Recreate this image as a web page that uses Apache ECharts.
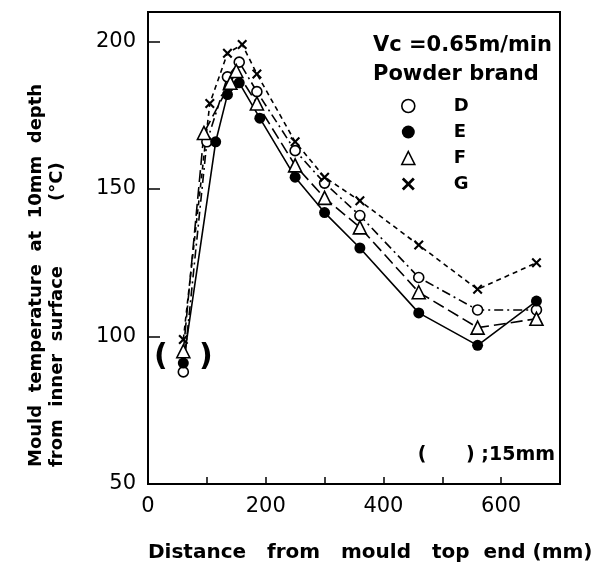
<!DOCTYPE html>
<html>
<head>
<meta charset="utf-8">
<script src="https://cdn.jsdelivr.net/npm/echarts@6/dist/echarts.min.js"></script>
<style>
  html, body { margin: 0; padding: 0; background: #fff; }
  #chart { width: 601px; height: 574px; }
</style>
</head>
<body>
<div id="chart"></div>
<script>
// distance from mould top end (mm) and temperature (°C) per powder brand
const distD = [60, 100, 135, 155, 185, 250, 300, 360, 460, 560, 660];
const tempD = [88, 166, 188, 193, 183, 163, 152, 141, 120, 109, 109];
const distE = [60, 115, 135, 155, 190, 250, 300, 360, 460, 560, 660];
const tempE = [91, 166, 182, 186, 174, 154, 142, 130, 108, 97, 112];
const distF = [60, 95, 140, 150, 185, 250, 300, 360, 460, 560, 660];
const tempF = [95, 169, 186, 190, 179, 158, 147, 137, 115, 103, 106];
const distG = [60, 105, 135, 160, 185, 250, 300, 360, 460, 560, 660];
const tempG = [99, 179, 196, 199, 189, 166, 154, 146, 131, 116, 125];
// the bracketed points (15mm depth)
const bracketPoint = [60, 93];

const FONT = '"DejaVu Sans", sans-serif';
const crossPath = 'path://M0,1.5L1.5,0L5,3.5L8.5,0L10,1.5L6.5,5L10,8.5L8.5,10L5,6.5L1.5,10L0,8.5L3.5,5Z';

const zip = (xs, ys) => xs.map((x, i) => [x, ys[i]]);

const hollow = { color: '#fff', borderColor: '#000', borderWidth: 1.6 };

const chart = echarts.init(document.getElementById('chart'));

chart.setOption({
  animation: false,
  grid: {
    left: 148, right: 41, top: 12, bottom: 90,
    show: true, borderColor: '#000', borderWidth: 2
  },
  title: {
    text: 'Vc =0.65m/min\nPowder brand',
    left: 368, top: 26,
    textStyle: { fontFamily: FONT, fontSize: 21, fontWeight: 'bold', color: '#000', lineHeight: 29 }
  },
  legend: {
    orient: 'vertical',
    left: 396, top: 92,
    itemWidth: 13, itemHeight: 13, itemGap: 8,
    textStyle: { fontFamily: FONT, fontSize: 18, fontWeight: 'bold', color: '#000', padding: [0, 0, 0, 34] },
    data: [
      { name: 'D', icon: 'circle', itemStyle: { color: '#fff', borderColor: '#000', borderWidth: 1.6 } },
      { name: 'E', icon: 'circle', itemStyle: { color: '#000', borderWidth: 0 } },
      { name: 'F', icon: 'triangle', itemStyle: { color: '#fff', borderColor: '#000', borderWidth: 1.6 } },
      { name: 'G', icon: crossPath, itemStyle: { color: '#000', borderWidth: 0 } }
    ]
  },
  xAxis: {
    type: 'value', min: 0, max: 700, interval: 100,
    axisLine: { show: false },
    splitLine: { show: false },
    axisTick: { inside: true, length: 7, lineStyle: { color: '#000', width: 1.5 } },
    axisLabel: {
      margin: 12, color: '#000', fontFamily: FONT, fontSize: 21,
      formatter: v => (v % 200 === 0 && v < 700 ? String(v) : '')
    }
  },
  yAxis: {
    type: 'value', min: 50, max: 210, interval: 50,
    axisLine: { show: false },
    splitLine: { show: false },
    axisTick: { inside: true, length: 12, lineStyle: { color: '#000', width: 1.5 } },
    axisLabel: {
      margin: 12, color: '#000', fontFamily: FONT, fontSize: 21,
      formatter: v => (v % 50 === 0 ? String(v) : '')
    }
  },
  graphic: [
    { type: 'text', x: 36, y: 467, rotation: Math.PI / 2,
      style: { text: 'Mould  temperature  at  10mm  depth', font: 'bold 18px ' + FONT, fill: '#000', align: 'left', verticalAlign: 'middle' } },
    { type: 'text', x: 57, y: 467, rotation: Math.PI / 2,
      style: { text: 'from  inner  surface', font: 'bold 18px ' + FONT, fill: '#000', align: 'left', verticalAlign: 'middle' } },
    { type: 'text', x: 57, y: 201, rotation: Math.PI / 2,
      style: { text: '(°C)', font: 'bold 18px ' + FONT, fill: '#000', align: 'left', verticalAlign: 'middle' } },
    { type: 'text', x: 148, y: 553,
      style: { text: 'Distance   from   mould   top  end (mm)', font: 'bold 20px ' + FONT, fill: '#000', align: 'left', verticalAlign: 'middle' } },
    { type: 'text', x: 555, y: 455,
      style: { text: '(      ) ;15mm', font: 'bold 19px ' + FONT, fill: '#000', align: 'right', verticalAlign: 'middle' } }
  ],
  series: [
    {
      name: 'D', type: 'line', data: zip(distD, tempD),
      symbol: 'circle', symbolSize: 10, itemStyle: hollow,
      lineStyle: { color: '#000', width: 1.6, type: [9, 4, 2, 4] }
    },
    {
      name: 'E', type: 'line', data: zip(distE, tempE),
      symbol: 'circle', symbolSize: 11, itemStyle: { color: '#000' },
      lineStyle: { color: '#000', width: 1.6, type: 'solid' }
    },
    {
      name: 'F', type: 'line', data: zip(distF, tempF),
      symbol: 'triangle', symbolSize: 13, itemStyle: hollow,
      lineStyle: { color: '#000', width: 1.6, type: [12, 5] }
    },
    {
      name: 'G', type: 'line', data: zip(distG, tempG),
      symbol: crossPath, symbolSize: 10, itemStyle: { color: '#000' },
      lineStyle: { color: '#000', width: 1.6, type: [5, 4] }
    },
    {
      name: 'bracket', type: 'scatter', data: [bracketPoint],
      symbolSize: 0, silent: true,
      itemStyle: { opacity: 1, color: '#000' },
      label: {
        show: true, position: 'inside', formatter: '(   )',
        fontFamily: FONT, fontSize: 30, fontWeight: 'bold', color: '#000', textBorderWidth: 0
      }
    }
  ]
});
</script>
</body>
</html>
